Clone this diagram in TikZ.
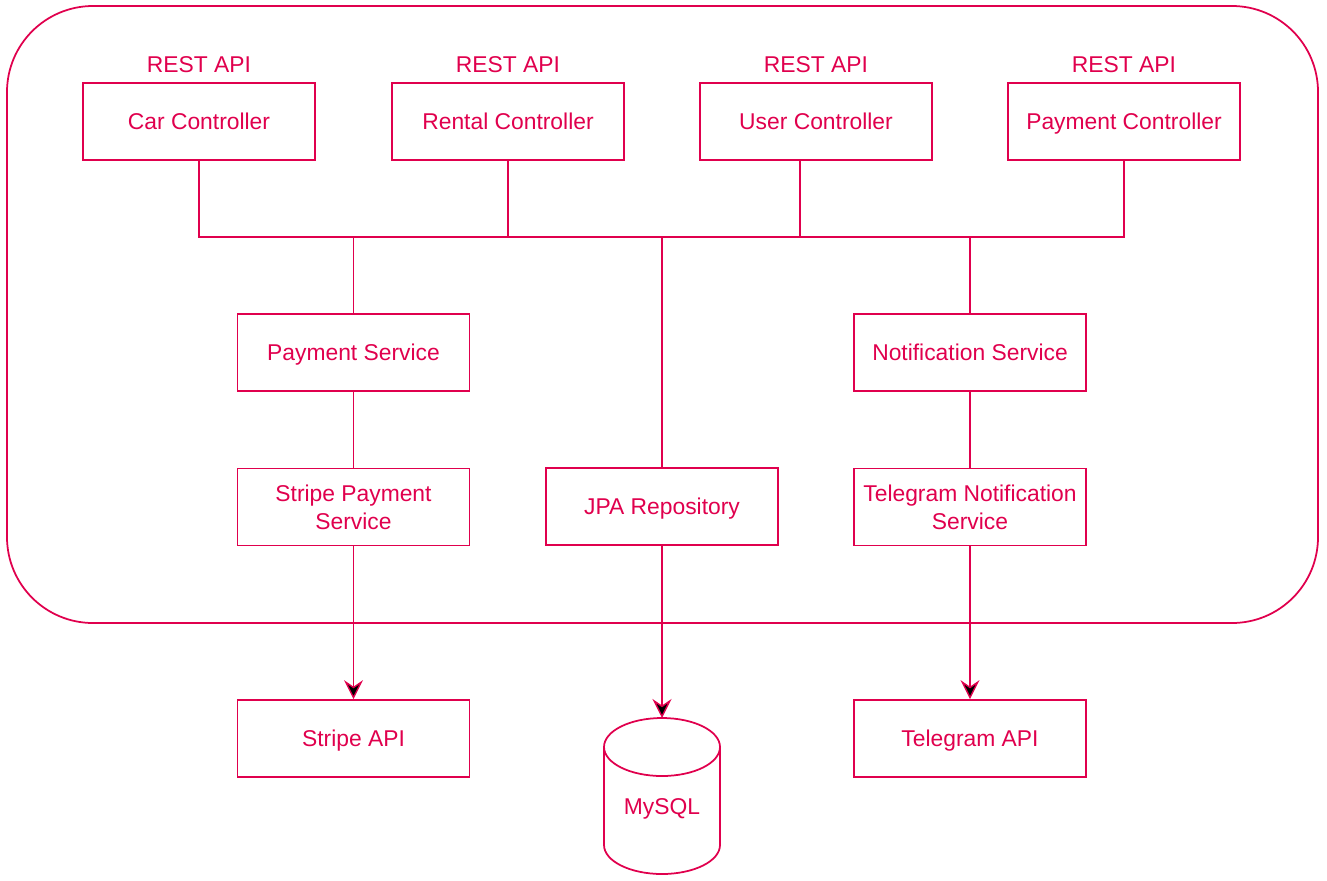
\documentclass[tikz,border=0pt]{standalone}
\usepackage{fontspec}
\setmainfont{Liberation Sans}
\usetikzlibrary{arrows.meta}
\definecolor{crimson}{HTML}{E0004D}

\begin{document}
\begin{tikzpicture}[x=0.02cm,y=-0.02cm,line width=1pt]
  \tikzset{comp box/.style={draw=crimson,text=crimson,rectangle,minimum width=4.64cm,minimum height=1.54cm,inner sep=1pt,align=center,font=\fontsize{13}{15.9}\selectfont},
           one line/.style={text height=9.3pt,text depth=0pt},
           rest label/.style={text=crimson,font=\fontsize{13}{15.9}\selectfont},
           wire/.style={draw=crimson},
           call/.style={draw=crimson,-{Stealth[length=3.8mm,width=3.8mm,inset=1.3mm,fill=black,line width=0.8pt]}}}
  \useasboundingbox (0,0) rectangle (1327,880);

  \draw[crimson,rounded corners=1.72cm] (7,6) rectangle (1318,623);

  \node [comp box,one line] (car) at (199,121.5) {Car Controller};
  \node [comp box,one line] (rental) at (508,121.5) {Rental Controller};
  \node [comp box,one line] (user) at (816,121.5) {User Controller};
  \node [comp box,one line] (paycon) at (1124,121.5) {Payment Controller};
  \node [rest label,one line] (carapi) at (199,64) {REST API};
  \node [rest label,one line] (rentalapi) at (508,64) {REST API};
  \node [rest label,one line] (userapi) at (816,64) {REST API};
  \node [rest label,one line] (payconapi) at (1124,64) {REST API};

  \node [comp box,one line] (paysrv) at (353.5,352.5) {Payment Service};
  \node [comp box,one line] (notif) at (970,352.5) {Notification Service};
  \node [comp box] (stripesrv) at (353.5,507) {Stripe Payment\\Service};
  \node [comp box,one line] (jpa) at (662,506.5) {JPA Repository};
  \node [comp box] (telesrv) at (970,507) {Telegram Notification\\Service};
  \node [comp box,one line] (stripeapi) at (353.5,738.5) {Stripe API};
  \node [comp box,one line] (teleapi) at (970,738.5) {Telegram API};

  % database drum
  \draw[crimson] (604,747) arc[start angle=180,end angle=360,x radius=58,y radius=-29]
                 arc[start angle=0,end angle=180,x radius=58,y radius=-29]
                 -- (604,845) arc[start angle=180,end angle=360,x radius=58,y radius=-29] -- (720,747);
  \coordinate (mysqltop) at (662,718);
  \node [rest label,one line] (mysql) at (662,806) {MySQL};

  \coordinate (bus) at (0,237);
  \draw [wire] (car.south) -- (car.south |- bus) -- (paycon.south |- bus) -- (paycon.south);
  \draw [wire] (rental.south) -- (rental.south |- bus);
  \draw [wire] ([xshift=-0.32cm]user.south) -- ([xshift=-0.32cm]user.south |- bus);
  \draw [wire] (paysrv.north) -- (paysrv.north |- bus);
  \draw [wire] (jpa.north) -- (jpa.north |- bus);
  \draw [wire] (notif.north) -- (notif.north |- bus);
  \draw [wire] (paysrv) -- (stripesrv);
  \draw [wire] (notif) -- (telesrv);

  \draw [call] (stripesrv) -- (stripeapi);
  \draw [call] (jpa) -- (mysqltop);
  \draw [call] (telesrv) -- (teleapi);
\end{tikzpicture}
\end{document}
